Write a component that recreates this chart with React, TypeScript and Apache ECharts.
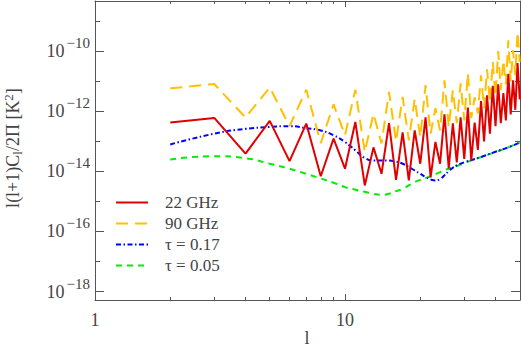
import React, { useEffect, useRef } from "react";
import * as echarts from "echarts";

// multipole l for the two frequency maps
const ellMaps = [
  2, 3, 4, 5, 6, 7, 8, 9, 10, 11, 12, 13, 14, 15, 16, 17, 18, 19, 20, 21, 22, 23, 24, 25, 26,
  27, 28, 29, 30, 31, 32, 33, 34, 35, 36, 37, 38, 39, 40, 41, 42, 43, 44, 45, 46, 47, 48, 49, 50,
];
// l(l+1)C_l/2pi [K^2]
const ghz22 = [
  4.2e-13, 6.0e-13, 3.9e-14, 4.8e-13, 2.2e-14, 3.9e-13, 6.9e-15, 1.23e-13, 1.23e-14, 4.4e-13,
  3.4e-15, 6.3e-14, 8.3e-15, 4.0e-13, 5.2e-15, 2.0e-13, 5.0e-15, 2.3e-13, 1.8e-14, 6.3e-13,
  6.3e-15, 9.5e-14, 1.8e-14, 7.9e-13, 1.26e-14, 4.0e-13, 2.0e-14, 6.3e-13, 2.6e-14, 1.32e-12,
  2.3e-14, 4.2e-13, 5.2e-14, 2.2e-12, 1.0e-13, 3.4e-12, 1.8e-13, 7.1e-12, 3.2e-13, 7.9e-12,
  4.0e-13, 4.0e-12, 5.0e-13, 1.78e-11, 7.9e-13, 1.07e-11, 1.12e-12, 4.0e-11, 2.5e-12,
];
const ghz90 = [
  5.8e-12, 8.1e-12, 6.2e-13, 6.2e-12, 3.2e-13, 5.2e-12, 8.7e-14, 1.7e-12, 1.6e-13, 5.2e-12,
  4.4e-14, 8.3e-13, 8.5e-14, 4.4e-12, 1.0e-13, 3.0e-12, 1.07e-13, 2.6e-12, 1.38e-13, 7.4e-12,
  1.8e-13, 1.26e-12, 2.3e-13, 1.07e-11, 3.0e-13, 5.0e-12, 4.0e-13, 8.5e-12, 5.0e-13, 1.86e-11,
  5.9e-13, 2.95e-12, 8.5e-13, 1.58e-11, 1.26e-12, 2.5e-11, 2.0e-12, 4.4e-11, 3.2e-12, 1.0e-10,
  5.0e-12, 5.0e-11, 7.9e-12, 2.3e-10, 1.0e-11, 1.07e-10, 1.58e-11, 4.4e-10, 4.4e-11,
];

// multipole l for the two model spectra
const ellModel = [
  2, 3, 4, 5, 6, 7, 8, 9, 10, 11, 12, 13, 14, 15, 16, 17, 18, 19, 20, 21, 22, 23, 24, 25, 26,
  27, 28, 30, 35, 40, 45, 50,
];
const tau017 = [
  7.9e-14, 1.8e-13, 2.6e-13, 3.0e-13, 3.2e-13, 2.75e-13, 2.3e-13, 1.6e-13, 9.5e-14, 5.0e-14,
  2.8e-14, 2.3e-14, 2.3e-14, 2.3e-14, 2.1e-14, 1.8e-14, 1.4e-14, 1.07e-14, 8.3e-15, 6.5e-15,
  5.4e-15, 5.0e-15, 5.6e-15, 7.4e-15, 1.02e-14, 1.32e-14, 1.58e-14, 2.0e-14, 3.0e-14, 4.5e-14,
  6.3e-14, 9.1e-14,
];
const tau005 = [
  2.5e-14, 3.2e-14, 2.75e-14, 1.8e-14, 1.23e-14, 8.3e-15, 5.8e-15, 4.2e-15, 3.0e-15, 2.45e-15,
  2.1e-15, 1.8e-15, 1.66e-15, 1.8e-15, 2.2e-15, 2.6e-15, 3.4e-15, 4.4e-15, 5.2e-15, 6.0e-15,
  6.9e-15, 8.1e-15, 9.5e-15, 1.1e-14, 1.23e-14, 1.38e-14, 1.5e-14, 1.9e-14, 3.0e-14, 4.4e-14,
  6.3e-14, 9.1e-14,
];

const seriesNames = ["22 GHz", "90 GHz", "τ = 0.17", "τ = 0.05"];

// axis ticks
const xMajorTicks = [1, 10];
const xMinorTicks = [2, 3, 4, 5, 6, 7, 8, 9, 20, 30, 40];
const yMajorExp = [-18, -16, -14, -12, -10];
const yMinorExp = [-17, -15, -13, -11, -9];

const FONT = '"Liberation Serif", "Times New Roman", serif';
const AXC = "#555555";
const TXT = "#444444";
const XMIN = 0;
const XMAX = 1.7;
const YMIN = -18.28;
const YMAX = -8.33;

const toPts = (ls: number[], vs: number[]) => ls.map((l, i) => [Math.log10(l), Math.log10(vs[i])]);

function xAxisDef(position: "top" | "bottom", ticks: number[], len: number, showLine: boolean, labels: boolean) {
  return {
    type: "value",
    position,
    min: XMIN,
    max: XMAX,
    splitLine: { show: false },
    axisLine: { show: showLine, onZero: false, lineStyle: { color: AXC, width: 1 } },
    axisTick: {
      show: true,
      inside: true,
      length: len,
      customValues: ticks.map((t) => Math.log10(t)),
      lineStyle: { color: AXC, width: 1 },
    },
    axisLabel: labels
      ? {
          show: true,
          customValues: ticks.map((t) => Math.log10(t)),
          margin: 11,
          color: TXT,
          fontFamily: FONT,
          fontSize: 18,
          formatter: (v: number) => String(Math.round(Math.pow(10, v))),
        }
      : { show: false },
  };
}

function yAxisDef(position: "left" | "right", ticks: number[], len: number, showLine: boolean, labels: boolean) {
  return {
    type: "value",
    position,
    min: YMIN,
    max: YMAX,
    splitLine: { show: false },
    axisLine: { show: showLine, onZero: false, lineStyle: { color: AXC, width: 1 } },
    axisTick: {
      show: true,
      inside: true,
      length: len,
      customValues: ticks,
      lineStyle: { color: AXC, width: 1 },
    },
    axisLabel: labels
      ? {
          show: true,
          customValues: ticks,
          margin: 5,
          formatter: (v: number) => `{b|10}{s|\u2212${Math.round(-v)}}`,
          rich: {
            b: { fontFamily: FONT, fontSize: 18, color: TXT },
            s: { fontFamily: FONT, fontSize: 15, color: TXT, padding: [0, 0, 16, 2] },
          },
        }
      : { show: false },
  };
}

export default function App() {
  const ref = useRef<HTMLDivElement>(null);

  useEffect(() => {
    if (!ref.current) return;
    const chart = echarts.init(ref.current, null, { renderer: "svg" });
    const option: any = {
      animation: false,
      backgroundColor: "#ffffff",
      grid: { left: 95, right: 1, top: 1, bottom: 48, containLabel: false },
      xAxis: [
        xAxisDef("bottom", xMajorTicks, 6, true, true),
        xAxisDef("bottom", xMinorTicks, 3, false, false),
        xAxisDef("top", xMajorTicks, 6, true, false),
        xAxisDef("top", xMinorTicks, 3, false, false),
      ],
      yAxis: [
        yAxisDef("left", yMajorExp, 9, true, true),
        yAxisDef("left", yMinorExp, 5, false, false),
        yAxisDef("right", yMajorExp, 9, true, false),
        yAxisDef("right", yMinorExp, 5, false, false),
      ],
      legend: {
        show: true,
        orient: "vertical",
        left: 115,
        top: 194,
        padding: 0,
        itemWidth: 32,
        itemHeight: 14,
        itemGap: 4,
        selectedMode: false,
        data: seriesNames,
        itemStyle: { opacity: 0 },
        textStyle: { fontFamily: FONT, fontSize: 17, color: TXT, padding: [0, 0, 0, 12] },
      },
      graphic: [
        {
          type: "text",
          x: 13,
          y: 148,
          rotation: Math.PI / 2,
          style: {
            text: "l(l+1)C{sub|l}/2Π [K{sup|2}]",
            fontFamily: FONT,
            fontSize: 18,
            fill: TXT,
            align: "center",
            verticalAlign: "middle",
            rich: {
              sub: { fontFamily: FONT, fontSize: 13, fill: TXT, padding: [9, 0, 0, 0] },
              sup: { fontFamily: FONT, fontSize: 13, fill: TXT, padding: [0, 0, 10, 0] },
            },
          },
        },
        {
          type: "text",
          x: 307,
          y: 338,
          style: {
            text: "l",
            fontFamily: FONT,
            fontSize: 18,
            lineHeight: 16,
            fill: TXT,
            align: "center",
            verticalAlign: "middle",
          },
        },
      ],
      series: [
        {
          name: seriesNames[3],
          type: "line",
          smooth: true,
          showSymbol: false,
          symbol: "none",
          z: 2,
          data: toPts(ellModel, tau005),
          lineStyle: { color: "#00ee00", width: 2, type: [6, 5] },
          itemStyle: { color: "#00ee00" },
        },
        {
          name: seriesNames[2],
          type: "line",
          smooth: true,
          showSymbol: false,
          symbol: "none",
          z: 3,
          data: toPts(ellModel, tau017),
          lineStyle: { color: "#0000ff", width: 2, type: [5, 2.5, 1.5, 2.5] },
          itemStyle: { color: "#0000ff" },
        },
        {
          name: seriesNames[1],
          type: "line",
          showSymbol: false,
          symbol: "none",
          z: 4,
          data: toPts(ellMaps, ghz90),
          lineStyle: { color: "#ffc000", width: 2, type: [12, 7] },
          itemStyle: { color: "#ffc000" },
        },
        {
          name: seriesNames[0],
          type: "line",
          showSymbol: false,
          symbol: "none",
          z: 5,
          data: toPts(ellMaps, ghz22),
          lineStyle: { color: "#e00000", width: 2, type: "solid" },
          itemStyle: { color: "#e00000" },
        },
      ],
    };
    chart.setOption(option);
    return () => {
      chart.dispose();
    };
  }, []);

  return (
    <div
      ref={ref}
      style={{ position: "fixed", left: 0, top: 0, width: 521, height: 348, background: "#fff" }}
    />
  );
}
